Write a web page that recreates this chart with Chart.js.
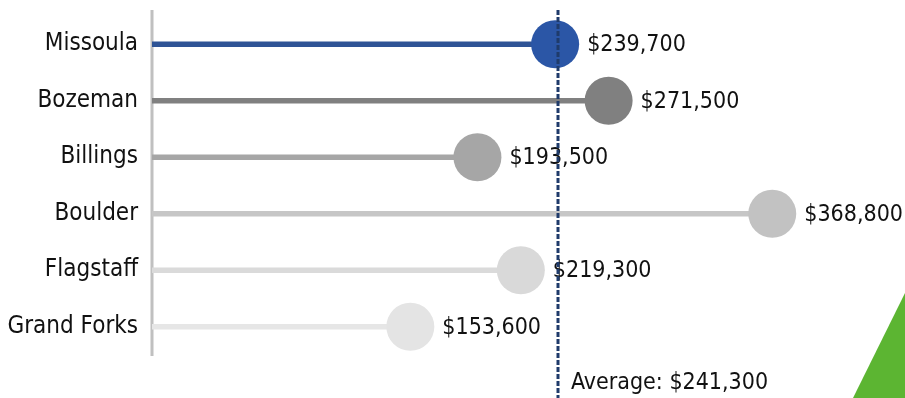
<!DOCTYPE html>
<html>
<head>
<meta charset="utf-8">
<script src="https://cdn.jsdelivr.net/npm/chart.js@4.4.1/dist/chart.umd.min.js"></script>
<style>
  html, body { margin: 0; padding: 0; background: #fff; }
  #wrap { position: relative; width: 905px; height: 398px; overflow: hidden; }
  #corner {
    position: absolute; left: 0; top: 0; width: 905px; height: 398px;
    background: #5cb532;
    clip-path: polygon(905px 293px, 905px 398px, 853px 398px);
  }
</style>
</head>
<body>
<div id="wrap">
  <div id="corner"></div>
  <canvas id="chart" width="905" height="398"></canvas>
</div>
<script>
// median home prices per city
const cities = ["Missoula", "Bozeman", "Billings", "Boulder", "Flagstaff", "Grand Forks"];
const prices = [239700, 271500, 193500, 368800, 219300, 153600];
const averagePrice = 241300;
const averageLabel = "Average: ";

const stemColors = ["#2f5496", "#808080", "#a6a6a6", "#c6c6c6", "#dadada", "#e6e6e6"];
const dotColors = ["#2b56a6", "#808080", "#a6a6a6", "#c2c2c2", "#d9d9d9", "#e4e4e4"];

const FONT = "'DejaVu Sans Condensed', 'Liberation Sans Narrow', 'DejaVu Sans', sans-serif";
const money = v => "$" + v.toLocaleString("en-US");

// axis line, value labels and the average marker
const lollipopExtras = {
  id: "lollipopExtras",
  beforeDatasetsDraw(chart) {
    const { ctx, chartArea } = chart;
    ctx.save();
    ctx.strokeStyle = "#c0c0c0";
    ctx.lineWidth = 3;
    ctx.beginPath();
    ctx.moveTo(chartArea.left, chartArea.top - 6);
    ctx.lineTo(chartArea.left, chartArea.bottom + 1);
    ctx.stroke();
    ctx.restore();
  },
  afterDatasetsDraw(chart) {
    const { ctx } = chart;
    const x = chart.scales.x, y = chart.scales.y;
    ctx.save();
    ctx.font = "23px " + FONT;
    ctx.fillStyle = "#111";
    ctx.textBaseline = "middle";
    ctx.textAlign = "left";
    prices.forEach((v, i) => {
      ctx.fillText(money(v), x.getPixelForValue(v) + 32, y.getPixelForValue(i) + 1);
    });
    ctx.restore();
  },
  afterDraw(chart) {
    const { ctx } = chart;
    const ax = Math.round(chart.scales.x.getPixelForValue(averagePrice));
    ctx.save();
    ctx.strokeStyle = "#1f3b6b";
    ctx.lineWidth = 3;
    ctx.setLineDash([5, 2]);
    ctx.beginPath();
    ctx.moveTo(ax, 10);
    ctx.lineTo(ax, 398);
    ctx.stroke();
    ctx.setLineDash([]);
    ctx.font = "23px " + FONT;
    ctx.fillStyle = "#111";
    ctx.textBaseline = "middle";
    ctx.fillText(averageLabel + money(averagePrice), ax + 13, 383);
    ctx.restore();
  }
};

new Chart(document.getElementById("chart"), {
  type: "bar",
  data: {
    labels: cities,
    datasets: [
      {
        type: "line",
        indexAxis: "y",
        data: prices,
        showLine: false,
        pointRadius: 24,
        pointHoverRadius: 24,
        pointBorderWidth: 0,
        pointBackgroundColor: dotColors,
        clip: false,
        order: 0
      },
      {
        type: "bar",
        indexAxis: "y",
        data: prices,
        backgroundColor: stemColors,
        barThickness: 5,
        order: 1
      }
    ]
  },
  plugins: [lollipopExtras],
  options: {
    indexAxis: "y",
    responsive: false,
    animation: false,
    events: [],
    layout: { autoPadding: false, padding: { top: 16, bottom: 43, left: 0, right: 13 } },
    plugins: { legend: { display: false }, tooltip: { enabled: false } },
    scales: {
      x: { display: false, min: 0, max: 440000 },
      y: {
        grid: { display: false, drawTicks: false },
        border: { display: false },
        ticks: { color: "#111", padding: 14, font: { family: FONT, size: 24 } },
        afterFit(scale) {
          scale.width = 152;
          scale.paddingTop = 0;
          scale.paddingBottom = 0;
        }
      }
    }
  }
});
</script>
</body>
</html>
